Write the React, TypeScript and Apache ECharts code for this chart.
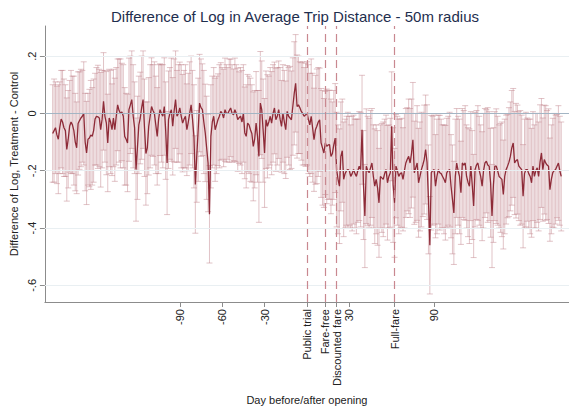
import React, { useEffect, useRef } from "react";
import * as echarts from "echarts";

const FIRST_DAY = -180;

// Daily mean difference (treatment - control), days -180 .. 180
const meanDiff = [
  -0.07, -0.06, -0.05, -0.075, -0.09, -0.05, -0.02, -0.03, -0.05, -0.06,
  -0.126, -0.09, -0.045, -0.03, -0.04, -0.06, -0.1, -0.12, -0.035, -0.025,
  -0.016, -0.01, 0.0, -0.1, -0.138, -0.09, -0.086, -0.075, -0.08, -0.06,
  -0.02, -0.01, -0.012, -0.016, -0.057, -0.02, 0.042, -0.01, -0.034, -0.103,
  -0.016, -0.03, -0.057, -0.016, -0.057, -0.01, 0.03, 0.01, 0.0, 0.005,
  -0.01, -0.08, -0.09, -0.103, 0.013, 0.03, 0.048, -0.01, -0.05, -0.196,
  -0.12, -0.04, -0.016, 0.02, 0.048, -0.05, -0.14, -0.12, -0.045, -0.01,
  0.024, 0.01, 0.0, -0.04, -0.08, -0.02, 0.013, 0.0, -0.01, 0.024,
  -0.06, -0.173, -0.022, 0.0, 0.013, -0.045, 0.01, 0.048, -0.01, 0.0,
  0.019, -0.01, -0.034, -0.02, -0.01, -0.057, -0.03, 0.0, 0.03, -0.02,
  -0.08, -0.248, -0.15, -0.057, 0.036, 0.02, 0.013, -0.03, -0.068, -0.12,
  -0.173, -0.352, -0.08, -0.03, -0.01, -0.057, -0.04, -0.022, -0.01, 0.007,
  0.0, -0.016, 0.013, 0.0, 0.0, 0.01, 0.019, 0.0, -0.005, 0.013,
  0.0, -0.022, -0.015, -0.01, -0.03, 0.0, -0.068, -0.08, -0.034, -0.04,
  -0.057, -0.07, -0.115, -0.09, -0.034, -0.08, -0.15, 0.036, 0.013, -0.06,
  -0.138, -0.022, -0.045, -0.03, -0.01, -0.034, 0.0, 0.019, -0.022, -0.01,
  0.013, -0.02, -0.045, 0.0, -0.03, -0.057, 0.007, -0.01, -0.016, -0.022,
  0.024, 0.07, 0.105, 0.024, 0.03, 0.02, 0.007, 0.0, -0.01, -0.005,
  0.0, -0.02, -0.04, -0.01, -0.05, -0.092, -0.057, -0.045, -0.03, -0.022,
  -0.103, -0.12, -0.138, -0.103, -0.115, -0.11, -0.109, -0.15, -0.14, -0.11,
  -0.086, -0.196, -0.23, -0.254, -0.15, -0.13, -0.23, -0.21, -0.2, -0.196,
  -0.2, -0.22, -0.21, -0.196, -0.21, -0.22, -0.2, -0.184, -0.196, -0.057,
  -0.25, -0.358, -0.184, -0.2, -0.207, -0.19, -0.173, -0.22, -0.254, -0.23,
  -0.26, -0.312, -0.22, -0.225, -0.23, -0.21, -0.196, -0.242, -0.22, -0.207,
  -0.045, -0.25, -0.312, -0.184, -0.2, -0.22, -0.21, -0.207, -0.23, -0.2,
  -0.173, -0.16, -0.15, -0.173, -0.14, -0.092, -0.207, -0.19, -0.173, -0.242,
  -0.22, -0.196, -0.18, -0.161, -0.126, -0.17, -0.3, -0.46, -0.207, -0.2,
  -0.196, -0.254, -0.22, -0.196, -0.207, -0.21, -0.22, -0.23, -0.242, -0.207,
  -0.2, -0.196, -0.254, -0.3, -0.347, -0.22, -0.173, -0.2, -0.22, -0.277,
  -0.173, -0.18, -0.173, -0.22, -0.24, -0.254, -0.184, -0.25, -0.323, -0.196,
  -0.18, -0.173, -0.2, -0.22, -0.254, -0.2, -0.173, -0.167, -0.18, -0.184,
  -0.242, -0.358, -0.25, -0.184, -0.184, -0.2, -0.22, -0.225, -0.23, -0.283,
  -0.22, -0.196, -0.184, -0.17, -0.15, -0.12, -0.103, -0.173, -0.165, -0.161,
  -0.184, -0.19, -0.196, -0.289, -0.21, -0.196, -0.196, -0.21, -0.22, -0.242,
  -0.184, -0.22, -0.2, -0.19, -0.22, -0.17, -0.138, -0.196, -0.161, -0.173,
  -0.18, -0.184, -0.266, -0.23, -0.207, -0.2, -0.196, -0.184, -0.173, -0.2, -0.22,
];

// Half-width of the confidence interval for each day
const ciHalfWidth = [
  0.17, 0.18, 0.16, 0.17, 0.19, 0.16, 0.17, 0.18, 0.17, 0.16,
  0.18, 0.17, 0.16, 0.18, 0.17, 0.19, 0.17, 0.16, 0.18, 0.17,
  0.17, 0.16, 0.18, 0.17, 0.18, 0.16, 0.17, 0.19, 0.17, 0.18,
  0.16, 0.17, 0.18, 0.17, 0.2, 0.17, 0.17, 0.16, 0.18, 0.17,
  0.17, 0.18, 0.16, 0.17, 0.18, 0.17, 0.16, 0.18, 0.19, 0.17,
  0.18, 0.17, 0.16, 0.17, 0.18, 0.17, 0.17, 0.18, 0.16, 0.18,
  0.18, 0.17, 0.16, 0.18, 0.17, 0.17, 0.18, 0.16, 0.17, 0.18,
  0.17, 0.16, 0.18, 0.17, 0.17, 0.19, 0.16, 0.17, 0.18, 0.17,
  0.17, 0.18, 0.17, 0.16, 0.18, 0.17, 0.18, 0.17, 0.16, 0.17,
  0.16, 0.18, 0.17, 0.17, 0.18, 0.16, 0.17, 0.18, 0.17, 0.17,
  0.18, 0.17, 0.16, 0.18, 0.17, 0.17, 0.16, 0.18, 0.17, 0.18,
  0.17, 0.17, 0.18, 0.16, 0.17, 0.18, 0.17, 0.16, 0.18, 0.17,
  0.16, 0.17, 0.18, 0.17, 0.16, 0.18, 0.17, 0.17, 0.16, 0.18,
  0.17, 0.18, 0.16, 0.17, 0.18, 0.17, 0.16, 0.18, 0.17, 0.17,
  0.18, 0.17, 0.19, 0.17, 0.18, 0.16, 0.23, 0.18, 0.17, 0.18,
  0.19, 0.17, 0.18, 0.16, 0.17, 0.18, 0.17, 0.16, 0.18, 0.17,
  0.17, 0.18, 0.16, 0.17, 0.18, 0.17, 0.16, 0.17, 0.18, 0.17,
  0.17, 0.18, 0.17, 0.18, 0.17, 0.16, 0.17, 0.18, 0.17, 0.18,
  0.18, 0.19, 0.18, 0.2, 0.19, 0.18, 0.19, 0.2, 0.19, 0.18,
  0.19, 0.2, 0.19, 0.18, 0.2, 0.19, 0.19, 0.2, 0.18, 0.19,
  0.19, 0.2, 0.19, 0.2, 0.19, 0.18, 0.2, 0.19, 0.19, 0.2,
  0.19, 0.18, 0.2, 0.19, 0.19, 0.2, 0.18, 0.19, 0.2, 0.19,
  0.19, 0.18, 0.2, 0.19, 0.19, 0.2, 0.19, 0.18, 0.2, 0.19,
  0.2, 0.19, 0.18, 0.19, 0.2, 0.19, 0.19, 0.2, 0.18, 0.19,
  0.19, 0.2, 0.19, 0.18, 0.19, 0.2, 0.19, 0.19, 0.18, 0.2,
  0.19, 0.18, 0.2, 0.19, 0.19, 0.2, 0.18, 0.19, 0.2, 0.19,
  0.19, 0.2, 0.18, 0.19, 0.19, 0.2, 0.19, 0.17, 0.2, 0.19,
  0.19, 0.18, 0.2, 0.19, 0.2, 0.19, 0.18, 0.19, 0.2, 0.19,
  0.19, 0.2, 0.18, 0.19, 0.18, 0.2, 0.19, 0.19, 0.2, 0.18,
  0.19, 0.19, 0.2, 0.18, 0.19, 0.2, 0.19, 0.19, 0.18, 0.2,
  0.19, 0.2, 0.19, 0.18, 0.19, 0.2, 0.19, 0.18, 0.2, 0.19,
  0.19, 0.18, 0.2, 0.19, 0.2, 0.19, 0.18, 0.19, 0.2, 0.19,
  0.2, 0.19, 0.18, 0.19, 0.19, 0.2, 0.19, 0.18, 0.2, 0.19,
  0.19, 0.2, 0.19, 0.18, 0.19, 0.2, 0.18, 0.19, 0.2, 0.19,
  0.19, 0.18, 0.2, 0.19, 0.19, 0.2, 0.19, 0.18, 0.19, 0.2,
  0.19, 0.2, 0.18, 0.19, 0.19, 0.2, 0.19, 0.18, 0.2, 0.19, 0.19,
];

const xTickValues = [-90, -60, -30, 30, 90];
const eventDays = [0, 13, 21, 62];
const eventLabels = ["Public trial", "Fare-free", "Discounted fare", "Full-fare"];
const yTickValues = [-0.6, -0.4, -0.2, 0, 0.2];
const yGridValues = [-0.6, -0.4, -0.2, 0.2];

const FONT = "Liberation Sans";

export default function App() {
  const ref = useRef<HTMLDivElement>(null);

  useEffect(() => {
    document.body.style.margin = "0";
    if (!ref.current) return;
    const chart = echarts.init(ref.current, null, { renderer: "svg" });

    const lineData = meanDiff.map((m, i) => [FIRST_DAY + i, m]);
    const barData = meanDiff.map((m, i) => {
      const hw = ciHalfWidth[i];
      return [FIRST_DAY + i, m - hw, m + hw];
    });

    const barColor = "rgba(192, 130, 138, 0.48)";

    const option: any = {
      animation: false,
      backgroundColor: "#ffffff",
      textStyle: { fontFamily: FONT },
      title: {
        text: "Difference of Log in Average Trip Distance - 50m radius",
        left: 106,
        top: 4,
        textStyle: { fontSize: 15, fontWeight: "normal", color: "#1e2e4e", fontFamily: FONT },
      },
      grid: { left: 40, right: -6, top: 26, bottom: 107, containLabel: false },
      xAxis: {
        type: "value",
        min: -185.5,
        max: 185.5,
        name: "Day before/after opening",
        nameLocation: "middle",
        nameGap: 92,
        nameTextStyle: { fontSize: 11, color: "#222", fontFamily: FONT },
        axisLine: { show: true, onZero: false, lineStyle: { color: "#8c8c8c", width: 1 } },
        axisTick: {
          show: true,
          customValues: [...xTickValues, ...eventDays],
          length: 5,
          lineStyle: { color: "#8c8c8c" },
        },
        axisLabel: {
          customValues: [...xTickValues, ...eventDays],
          rotate: 90,
          fontSize: 11,
          color: "#222",
          margin: 7,
          fontFamily: FONT,
          formatter: (v: number) => {
            const idx = eventDays.indexOf(v);
            return idx >= 0 ? eventLabels[idx] : String(v);
          },
        },
        splitLine: { show: false },
      },
      yAxis: {
        type: "value",
        min: -0.658,
        max: 0.305,
        name: "Difference of Log, Treatment - Control",
        nameLocation: "middle",
        nameGap: 25,
        nameTextStyle: { fontSize: 11, color: "#222", fontFamily: FONT },
        axisLine: { show: true, onZero: false, lineStyle: { color: "#8c8c8c", width: 1 } },
        axisTick: { show: true, customValues: yTickValues, length: 5, lineStyle: { color: "#8c8c8c" } },
        axisLabel: {
          customValues: yTickValues,
          rotate: 90,
          fontSize: 11,
          color: "#222",
          margin: 7,
          fontFamily: FONT,
          formatter: (v: number) => {
            if (Math.abs(v) < 1e-9) return "0";
            return (v < 0 ? "-" : "") + Math.abs(v).toFixed(1).replace(/^0/, "");
          },
        },
        splitLine: { show: false },
      },
      series: [
        {
          type: "custom",
          name: "ci",
          z: 2,
          data: barData,
          encode: { x: 0, y: [1, 2] },
          renderItem: (params: any, api: any) => {
            const x = api.value(0);
            const lo = api.coord([x, api.value(1)]);
            const hi = api.coord([x, api.value(2)]);
            const w = 3;
            const style = { stroke: barColor, lineWidth: 1, fill: null };
            return {
              type: "group",
              children: [
                { type: "line", shape: { x1: lo[0], y1: lo[1], x2: hi[0], y2: hi[1] }, style },
                { type: "line", shape: { x1: lo[0] - w, y1: lo[1], x2: lo[0] + w, y2: lo[1] }, style },
                { type: "line", shape: { x1: hi[0] - w, y1: hi[1], x2: hi[0] + w, y2: hi[1] }, style },
              ],
            };
          },
          markLine: {
            silent: true,
            symbol: ["none", "none"],
            label: { show: false },
            data: [
              ...yGridValues.map((v) => ({ yAxis: v, lineStyle: { color: "#e9eff2", width: 1, type: "solid" } })),
              { yAxis: 0, lineStyle: { color: "#a3b5c4", width: 1.1, type: "solid" } },
            ],
          },
        },
        {
          type: "line",
          name: "mean",
          z: 3,
          data: lineData,
          showSymbol: false,
          symbol: "none",
          lineStyle: { color: "#8e2b38", width: 1.3 },
          markLine: {
            silent: true,
            symbol: ["none", "none"],
            label: { show: false },
            lineStyle: { color: "#c98890", width: 1.2, type: [8, 5] },
            data: eventDays.map((d) => ({ xAxis: d })),
          },
        },
      ],
    };

    chart.setOption(option);
    return () => chart.dispose();
  }, []);

  return <div ref={ref} style={{ width: 569, height: 410 }} />;
}
